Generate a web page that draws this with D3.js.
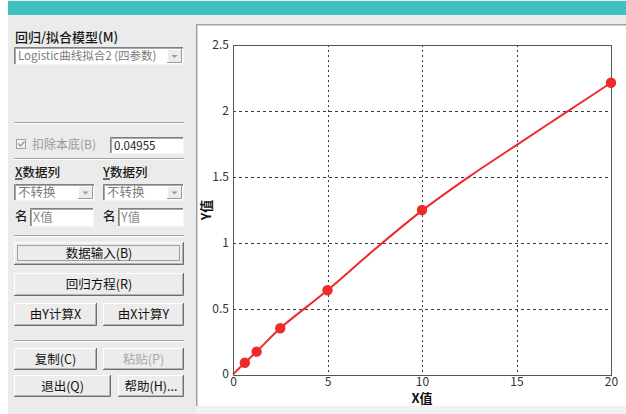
<!DOCTYPE html>
<html>
<head>
<meta charset="utf-8">
<script src="https://cdn.jsdelivr.net/npm/d3@7"></script>
<style>
  html, body { margin: 0; padding: 0; background: #ffffff; }
  svg { display: block; }
  text { font-family: "Noto Sans CJK SC", "Liberation Sans", sans-serif; }
</style>
</head>
<body>
<svg id="app" width="626" height="414"></svg>
<script>
// Axis ticks
const xTicks = [0, 5, 10, 15, 20];
const yTicks = [0, 0.5, 1, 1.5, 2, 2.5];

// Measured standards (X值, Y值)
const sampleX = [0.625, 1.25, 2.5, 5, 10, 20];
const sampleY = [0.093, 0.177, 0.354, 0.642, 1.25, 2.214];

// Fitted Logistic (4-parameter) curve, read along its path
const fitX = [0, 0.625, 1.25, 2.5, 5, 7.5, 10, 12.5, 15, 17.5, 20];
const fitY = [0.005, 0.093, 0.177, 0.354, 0.642, 0.952, 1.245, 1.503, 1.742, 1.978, 2.214];

// Side-panel texts
const modelLabel = "回归/拟合模型(M)";
const modelValue = "Logistic曲线拟合2 (四参数)";
const baselineLabel = "扣除本底(B)";
const baselineValue = "0.04955";
const transformOption = "不转换";

const svg = d3.select("#app");

// ---------- window chrome ----------
svg.append("rect").attr("x", 8).attr("y", 0).attr("width", 618).attr("height", 414).attr("fill", "#ebebeb");
svg.append("rect").attr("x", 8).attr("y", 1).attr("width", 618).attr("height", 14).attr("fill", "#40bfc0");
svg.append("rect").attr("x", 196).attr("y", 406).attr("width", 430).attr("height", 8).attr("fill", "#f2f2f2");

// chart panel (sunken frame)
svg.append("rect").attr("x", 196).attr("y", 24).attr("width", 430).attr("height", 382).attr("fill", "#ffffff");
svg.append("line").attr("x1", 196).attr("x2", 626).attr("y1", 24.5).attr("y2", 24.5).attr("stroke", "#a0a0a0");
svg.append("line").attr("x1", 196).attr("x2", 626).attr("y1", 25.5).attr("y2", 25.5).attr("stroke", "#d0d0d0");
svg.append("line").attr("x1", 196.5).attr("x2", 196.5).attr("y1", 24).attr("y2", 406).attr("stroke", "#a0a0a0");
svg.append("line").attr("x1", 197.5).attr("x2", 197.5).attr("y1", 25).attr("y2", 406).attr("stroke", "#d0d0d0");

// ---------- side panel widgets ----------
const ui = svg.append("g");

function sep(y) {
  ui.append("line").attr("x1", 14).attr("x2", 184).attr("y1", y + 0.5).attr("y2", y + 0.5).attr("stroke", "#a0a0a0");
  ui.append("line").attr("x1", 14).attr("x2", 184).attr("y1", y + 1.5).attr("y2", y + 1.5).attr("stroke", "#ffffff");
}

function sunken(x, y, w, h) {
  ui.append("rect").attr("x", x).attr("y", y).attr("width", w).attr("height", h).attr("fill", "#ffffff");
  ui.append("path").attr("d", `M${x + 0.5},${y + h}V${y + 0.5}H${x + w}`).attr("fill", "none").attr("stroke", "#808080");
  ui.append("path").attr("d", `M${x + 1.5},${y + h - 1}V${y + 1.5}H${x + w - 1}`).attr("fill", "none").attr("stroke", "#a8a8a8");
  ui.append("path").attr("d", `M${x},${y + h - 0.5}H${x + w - 0.5}V${y}`).attr("fill", "none").attr("stroke", "#f4f4f4");
}

function combo(x, y, w, h, label, size) {
  sunken(x, y, w, h);
  const bx = x + w - 17, by = y + 2, bw = 15, bh = h - 4;
  ui.append("rect").attr("x", bx).attr("y", by).attr("width", bw).attr("height", bh).attr("fill", "#ececec");
  ui.append("path").attr("d", `M${bx + 0.5},${by + bh}V${by + 0.5}H${bx + bw}`).attr("fill", "none").attr("stroke", "#ffffff");
  ui.append("path").attr("d", `M${bx},${by + bh - 0.5}H${bx + bw - 0.5}V${by}`).attr("fill", "none").attr("stroke", "#9a9a9a");
  const cx = bx + bw / 2, cy = by + bh / 2;
  ui.append("path").attr("d", `M${cx - 3},${cy - 1}H${cx + 3}L${cx},${cy + 2}Z`).attr("fill", "#9a9a9a");
  ui.append("text").attr("x", x + 4).attr("y", y + h / 2).attr("dy", "0.35em")
    .attr("font-size", size).attr("fill", "#7a7a7a").text(label);
}

function button(x, y, w, h, label, opts = {}) {
  ui.append("rect").attr("x", x).attr("y", y).attr("width", w).attr("height", h).attr("fill", "#ececec");
  ui.append("path").attr("d", `M${x + 0.5},${y + h}V${y + 0.5}H${x + w}`).attr("fill", "none").attr("stroke", "#ffffff");
  ui.append("path").attr("d", `M${x},${y + h - 0.5}H${x + w - 0.5}V${y}`).attr("fill", "none").attr("stroke", "#6e6e6e");
  ui.append("path").attr("d", `M${x + 1},${y + h - 1.5}H${x + w - 1.5}V${y + 1}`).attr("fill", "none").attr("stroke", "#b4b4b4");
  if (opts.focus) {
    ui.append("rect").attr("x", x + 3.5).attr("y", y + 3.5).attr("width", w - 8).attr("height", h - 8)
      .attr("fill", "none").attr("stroke", "#555").attr("stroke-dasharray", "1,1");
  }
  ui.append("text").attr("x", x + w / 2 + (opts.dx || 0)).attr("y", y + h / 2).attr("dy", "0.36em")
    .attr("text-anchor", "middle").attr("font-size", 12.5)
    .attr("fill", opts.disabled ? "#a8a8a8" : "#111").text(label);
}

// model selector
ui.append("text").attr("x", 15).attr("y", 37).attr("dy", "0.35em").attr("font-size", 13)
  .attr("font-weight", 500).attr("fill", "#1a1a1a").text(modelLabel);
combo(14, 47, 170, 18, modelValue, 11.5);

sep(122);

// background subtraction
ui.append("rect").attr("x", 16.5).attr("y", 139.5).attr("width", 9).attr("height", 9).attr("fill", "#f4f4f4").attr("stroke", "#a0a0a0");
ui.append("path").attr("d", "M18,143.5l2.5,2.5l4,-4.5").attr("fill", "none").attr("stroke", "#9a9a9a").attr("stroke-width", 1.5);
ui.append("text").attr("x", 32).attr("y", 144.5).attr("dy", "0.35em").attr("font-size", 12).attr("fill", "#9a9a9a").text(baselineLabel);
sunken(110, 137, 74, 17);
ui.append("text").attr("x", 114).attr("y", 146).attr("dy", "0.35em").attr("font-size", 11.5)
  .attr("font-family", "Liberation Sans, sans-serif").attr("fill", "#222").text(baselineValue);

sep(158);

// data columns
[["X", 15, 14], ["Y", 103, 103]].forEach(([axis, lx, cx]) => {
  const t = ui.append("text").attr("x", lx).attr("y", 173).attr("dy", "0.35em").attr("font-size", 12.5)
    .attr("font-weight", 500).attr("fill", "#1a1a1a");
  t.append("tspan").attr("text-decoration", "underline").text(axis);
  t.append("tspan").text("数据列");
  combo(cx, 184, 81, 17, transformOption, 12.5);
  ui.append("text").attr("x", lx).attr("y", 217).attr("dy", "0.35em").attr("font-size", 12.5)
    .attr("font-weight", 500).attr("fill", "#1a1a1a").text("名");
  const bx = lx + 15;
  sunken(bx, 208, axis === "X" ? 64 : 66, 19);
  ui.append("text").attr("x", bx + 3).attr("y", 217.5).attr("dy", "0.35em").attr("font-size", 12.5)
    .attr("fill", "#8a8a8a").text(axis + "值");
});

sep(235);

button(14, 242, 170, 23, "数据输入(B)", { focus: true });
button(14, 273, 170, 23, "回归方程(R)");
button(14, 303, 83, 23, "由Y计算X");
button(103, 303, 81, 23, "由X计算Y");

sep(340);

button(14, 348, 83, 22, "复制(C)");
button(103, 348, 81, 22, "粘贴(P)", { disabled: true });
button(14, 375, 97, 22, "退出(Q)");
button(118, 375, 66, 22, "帮助(H)...");

// ---------- chart ----------
const x = d3.scaleLinear().domain([0, 20]).range([233, 611]);
const y = d3.scaleLinear().domain([0, 2.5]).range([375, 45]);
const chart = svg.append("g");

// dashed grid
chart.append("g").selectAll("line").data(xTicks.slice(1, -1)).join("line")
  .attr("x1", d => Math.round(x(d)) + 0.5).attr("x2", d => Math.round(x(d)) + 0.5)
  .attr("y1", y(2.5)).attr("y2", y(0))
  .attr("stroke", "#3a3a3a").attr("stroke-dasharray", "2,3");
chart.append("g").selectAll("line").data(yTicks.slice(1, -1)).join("line")
  .attr("x1", x(0)).attr("x2", x(20))
  .attr("y1", d => Math.round(y(d)) + 0.5).attr("y2", d => Math.round(y(d)) + 0.5)
  .attr("stroke", "#3a3a3a").attr("stroke-dasharray", "3,3");

// frame
chart.append("rect").attr("x", x(0) + 0.5).attr("y", y(2.5) + 0.5)
  .attr("width", x(20) - x(0)).attr("height", y(0) - y(2.5))
  .attr("fill", "none").attr("stroke", "#555");

// axes (labels only)
const xAxis = chart.append("g").attr("transform", `translate(0,${y(0)})`)
  .call(d3.axisBottom(x).tickValues(xTicks).tickSize(0).tickPadding(2).tickFormat(d3.format("")));
const yAxis = chart.append("g").attr("transform", `translate(${x(0)},0)`)
  .call(d3.axisLeft(y).tickValues(yTicks).tickSize(0).tickPadding(4).tickFormat(d3.format("")));
[xAxis, yAxis].forEach(g => {
  g.select(".domain").remove();
  g.selectAll("text").attr("font-family", "Liberation Sans, Arial, sans-serif")
    .attr("font-size", 12).attr("fill", "#333");
});
yAxis.selectAll("text").filter(d => d === 0).attr("dy", "0.2em");

// axis titles
chart.append("text").attr("x", (x(0) + x(20)) / 2).attr("y", 398.5).attr("dy", "0.35em")
  .attr("text-anchor", "middle").attr("font-size", 13).attr("font-weight", 700).attr("fill", "#111").text("X值");
chart.append("text").attr("transform", `translate(206.5,${(y(0) + y(2.5)) / 2}) rotate(-90)`)
  .attr("dy", "0.35em").attr("text-anchor", "middle").attr("font-size", 13).attr("font-weight", 700)
  .attr("fill", "#111").text("Y值");

// fitted curve
const fit = fitX.map((v, i) => [v, fitY[i]]);
chart.append("path").datum(fit)
  .attr("d", d3.line().x(d => x(d[0])).y(d => y(d[1])).curve(d3.curveCatmullRom.alpha(0.5)))
  .attr("fill", "none").attr("stroke", "#ee2a2a").attr("stroke-width", 2);

// standards
const pts = sampleX.map((v, i) => [v, sampleY[i]]);
chart.append("g").selectAll("circle").data(pts).join("circle")
  .attr("cx", d => x(d[0])).attr("cy", d => y(d[1])).attr("r", 5.2)
  .attr("fill", "#ee2a2a");
</script>
</body>
</html>
